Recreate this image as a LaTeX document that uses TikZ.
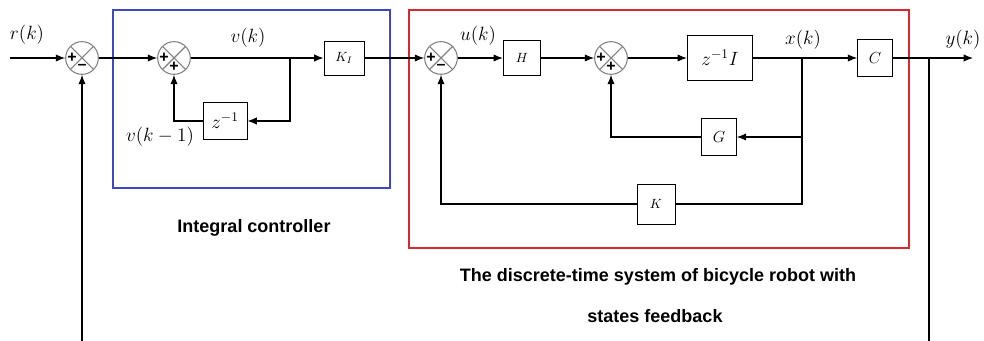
\documentclass[tikz,border=0pt]{standalone}
\usepackage{amsmath}
\usepackage{fontspec}
\setsansfont{Liberation Sans}
\usepackage{tikz}
\usetikzlibrary{arrows.meta,positioning,calc}

\definecolor{frameblue}{RGB}{62,72,196}
\definecolor{framered}{RGB}{218,38,48}

\tikzset{
    arr/.style={-{Latex[length=7pt,width=5.5pt]}},
    blk/.style={draw, line width=0.7pt, inner sep=0pt, font=\normalsize},
    sumc/.style={draw=gray, line width=0.8pt, circle, minimum size=24.5pt, inner sep=0pt,
        path picture={\draw[gray, line width=0.8pt]
            (path picture bounding box.north west) -- (path picture bounding box.south east)
            (path picture bounding box.north east) -- (path picture bounding box.south west);}},
    sgn/.style={inner sep=0pt, font=\bfseries\sffamily\large},
    lbl/.style={font=\Large},
    caption/.style={font=\sffamily\bfseries\fontsize{13.5}{16}\selectfont}
}

\begin{document}
\begin{tikzpicture}[x=0.75pt, y=-0.75pt, line width=0.8pt]
    \useasboundingbox (0,0) rectangle (984,341);

    % Frames
    \draw[frameblue, line width=2.2pt] (113,10) rectangle (390,188);
    \draw[framered, line width=2.2pt] (409,10) rectangle (909,248);

    % Summing junctions
    \node[sumc] (s1) at (82,58) {};
    \node[sumc] (s2) at (174,58) {};
    \node[sumc] (s3) at (441,58) {};
    \node[sumc] (s4) at (611,58) {};
    \node[sgn] (s1p) at ($(s1)+(-10,0)$) {+};
    \node[sgn] (s1m) at ($(s1)+(0,9)$) {--};
    \node[sgn] (s2p) at ($(s2)+(-10,0)$) {+};
    \node[sgn] (s2q) at ($(s2)+(0,9)$) {+};
    \node[sgn] (s3p) at ($(s3)+(-10,0)$) {+};
    \node[sgn] (s3m) at ($(s3)+(0,9)$) {--};
    \node[sgn] (s4p) at ($(s4)+(-10,0)$) {+};
    \node[sgn] (s4q) at ($(s4)+(0,9)$) {+};

    % Blocks
    \node[blk, minimum width=33pt, minimum height=28pt, font=\Large] (zinv) at (225,121) {$z^{-1}$};
    \node[blk, minimum width=30pt, minimum height=25.5pt] (KI) at (344,58) {$K_I$};
    \node[blk, minimum width=28pt, minimum height=26pt] (H) at (522,58) {$H$};
    \node[blk, minimum width=49pt, minimum height=34pt, font=\Large] (zinvI) at (720,58) {$z^{-1}I$};
    \node[blk, minimum width=26pt, minimum height=28pt, font=\large] (C) at (875,58) {$C$};
    \node[blk, minimum width=26pt, minimum height=28pt, font=\large] (G) at (719,137) {$G$};
    \node[blk, minimum width=28.5pt, minimum height=30pt] (K) at (656,204) {$K$};

    % Branch points and free ends
    \coordinate (rin) at (10,58);
    \coordinate (vb) at (290,58);
    \coordinate (xb) at (802,58);
    \coordinate (yb) at (929,58);
    \coordinate (yout) at (973,58);
    \coordinate (ybot) at (929,341);
    \coordinate (fbot) at (82,341);

    % Integral controller
    \draw[arr] (rin) -- (s1.west);
    \draw[arr] (s1.east) -- (s2.west);
    \draw (s2.east) -- (vb);
    \draw[arr] (vb) -- (KI.west);
    \draw[arr] (vb) |- (zinv.east);
    \draw[arr] (zinv.west) -| (s2.south);

    % Plant with state feedback
    \draw[arr] (KI.east) -- (s3.west);
    \draw[arr] (s3.east) -- (H.west);
    \draw[arr] (H.east) -- (s4.west);
    \draw[arr] (s4.east) -- (zinvI.west);
    \draw (zinvI.east) -- (xb);
    \draw[arr] (xb) -- (C.west);
    \draw[arr] (xb |- G.east) -- (G.east);
    \draw (xb) |- (K.east);
    \draw[arr] (G.west) -| (s4.south);
    \draw[arr] (K.west) -| (s3.south);

    % Output and outer loop
    \draw[arr] (C.east) -- (yout);
    \draw (yb) -- (ybot);
    \draw[arr] (fbot) -- (s1.south);

    % Signal labels
    \node[lbl] (rlab) at (27,35) {$r(k)$};
    \node[lbl] (vlab) at (248,38) {$v(k)$};
    \node[lbl] (vplab) at (160,137) {$v(k-1)$};
    \node[lbl] (ulab) at (478,36) {$u(k)$};
    \node[lbl] (xlab) at (803,40) {$x(k)$};
    \node[lbl] (ylab) at (963,40) {$y(k)$};

    % Captions
    \node[caption] (intlab) at (254,228) {Integral controller};
    \node[caption] (sys1) at (658,277) {The discrete-time system of bicycle robot with};
    \node[caption] (sys2) at (655,316) {states feedback};
\end{tikzpicture}
\end{document}
